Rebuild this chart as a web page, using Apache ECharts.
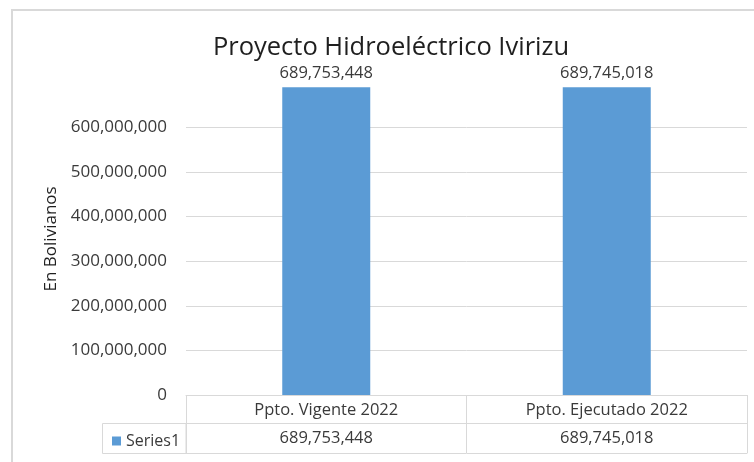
<!DOCTYPE html>
<html>
<head>
<meta charset="utf-8">
<script src="https://cdn.jsdelivr.net/npm/echarts@6/dist/echarts.min.js"></script>
<style>
html,body{margin:0;padding:0;background:#fff;}
#c{width:754px;height:462px;}
</style>
</head>
<body>
<div id="c"></div>
<script>
var titleText = 'Proyecto Hidroeléctrico Ivirizu';
var categories = ['Ppto. Vigente 2022', 'Ppto. Ejecutado 2022'];
var seriesName = 'Series1';
var values = [689753448, 689745018];
var yTicks = [0, 100000000, 200000000, 300000000, 400000000, 500000000, 600000000];
var yAxisName = 'En Bolivianos';

function fmt(v){ return Number(v).toLocaleString('en-US'); }

var FONT = 'Open Sans';
var TXT = '#3a3a3a';
var LINE = '#d9d9d9';

var chart = echarts.init(document.getElementById('c'), null, {renderer:'canvas'});
chart.setOption({
  animation: false,
  backgroundColor: '#fff',
  textStyle: {fontFamily: FONT},
  title: {
    text: titleText,
    left: 386, textAlign: 'center', top: 30,
    textStyle: {fontFamily: FONT, fontSize: 25.5, fontWeight: 'normal', color: '#1f1f1f'}
  },
  legend: {
    data: [seriesName],
    left: 107, top: 428,
    icon: 'rect', itemWidth: 9, itemHeight: 9,
    textStyle: {fontFamily: FONT, fontSize: 16, color: TXT}
  },
  grid: {left: 186, right: 7, top: 82.8, bottom: 67, containLabel: false},
  xAxis: [{
    type: 'category', data: categories, position: 'bottom',
    axisLine: {show: true, lineStyle: {color: LINE, width: 1}},
    axisTick: {show: true, length: 58, lineStyle: {color: LINE}},
    axisLabel: {fontFamily: FONT, fontSize: 16.5, color: TXT, margin: 7}
  }, {
    type: 'category', data: categories, position: 'bottom', offset: 28,
    axisLine: {show: true, lineStyle: {color: LINE}},
    axisTick: {show: false},
    axisLabel: {fontFamily: FONT, fontSize: 16.5, color: TXT, margin: 7,
      formatter: function(v, i){ return fmt(values[i]); }}
  }, {
    type: 'category', data: categories, position: 'bottom', offset: 58,
    axisLine: {show: true, lineStyle: {color: LINE}},
    axisTick: {show: false},
    axisLabel: {show: false}
  }],
  yAxis: {
    type: 'value', min: yTicks[0], max: 700000000, interval: yTicks[1] - yTicks[0],
    name: yAxisName, nameLocation: 'middle', nameGap: 113, nameRotate: 90,
    nameTextStyle: {fontFamily: FONT, fontSize: 17, color: '#1f1f1f'},
    axisLine: {show: false}, axisTick: {show: false},
    axisLabel: {fontFamily: FONT, fontSize: 17, color: TXT, margin: 19, showMaxLabel: false,
      formatter: function(v){ return fmt(v); }},
    splitLine: {show: true, showMaxLine: false, lineStyle: {color: LINE, width: 1}}
  },
  series: [{
    name: seriesName, type: 'bar', data: values, barWidth: 88,
    itemStyle: {color: '#5b9bd5'},
    label: {show: true, position: 'top', distance: 6, fontFamily: FONT, fontSize: 16.5, color: TXT,
      formatter: function(p){ return fmt(p.value); }}
  }],
  graphic: [
    {type: 'rect', shape: {x: 12, y: 10, width: 800, height: 500}, style: {fill: 'none', stroke: LINE, lineWidth: 2}, silent: true},
    {type: 'rect', shape: {x: 102.5, y: 423.5, width: 83.5, height: 30}, style: {fill: 'none', stroke: LINE, lineWidth: 1}, silent: true}
  ]
});
</script>
</body>
</html>
